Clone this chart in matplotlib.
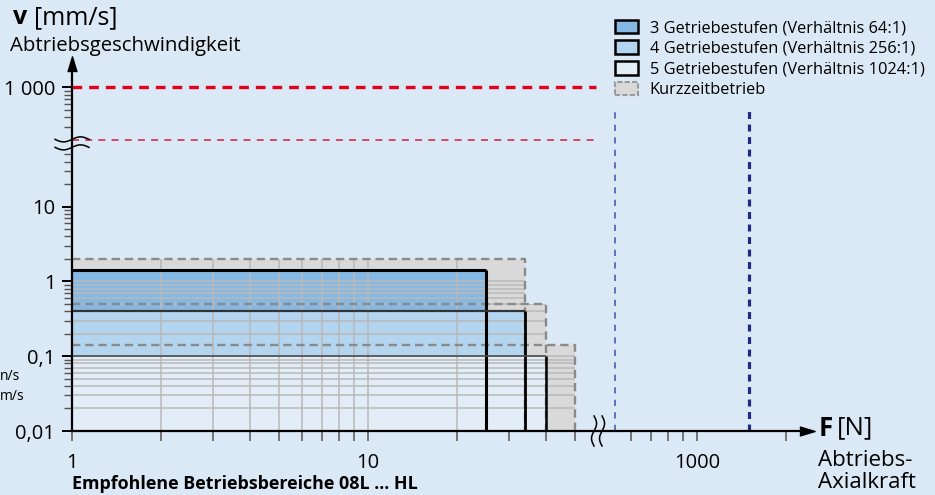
import numpy as np
import matplotlib
matplotlib.use("Agg")
import matplotlib.pyplot as plt
from matplotlib.patches import Rectangle, Patch, Polygon
import matplotlib.transforms as mtransforms

# ---- data ----
stage_labels = ["3 Getriebestufen (Verhältnis 64:1)",
                "4 Getriebestufen (Verhältnis 256:1)",
                "5 Getriebestufen (Verhältnis 1024:1)"]
stage_force = [25, 34, 40]        # N, Dauerbetrieb
stage_speed = [1.4, 0.4, 0.1]     # mm/s
short_label = "Kurzzeitbetrieb"
short_force = [34, 40, 50]        # N, Kurzzeitbetrieb
short_speed = [2.0, 0.5, 0.14]    # mm/s

speed_limits = [1000, 200]        # mm/s, red dashed
speed_limit_force = 59
force_limits = [530, 1500]        # N, blue dashed
force_limit_speed = 480

x_major = [1, 10, 1000]
x_major_labels = ["1", "10", "1000"]
x_minor = [2, 3, 4, 5, 6, 7, 8, 9, 20, 30, 40, 50, 600, 700, 800, 900, 2000]
y_major = [0.01, 0.1, 1, 10, 1000]
y_major_labels = ["0,01", "0,1", "1", "10", "1 000"]
y_minor = [0.02, 0.03, 0.04, 0.05, 0.06, 0.07, 0.08, 0.09,
           0.2, 0.3, 0.4, 0.5, 0.6, 0.7, 0.8, 0.9,
           2, 3, 4, 5, 6, 7, 8, 9, 20, 30, 40, 50,
           300, 400, 500, 600, 700, 800, 900]
x_grid = [2, 3, 4, 5, 6, 7, 8, 9, 10, 20]
y_grid = [0.02, 0.03, 0.04, 0.05, 0.06, 0.07, 0.08, 0.09, 0.1,
          0.2, 0.3, 0.4, 0.5, 0.6, 0.7, 0.8, 0.9, 1]

# ---- styling ----
BG = "#dbe8f5"
stage_fill = ["#85b8e2", "#b4d5ef", "#e3edf8"]
stage_top_color = ["black", "#333333", "#4d4d4d"]
stage_top_lw = [2.2, 1.6, 1.2]
stage_right_lw = [2.2, 2.0, 1.8]
short_fill = "#d9d9d9"
short_edge = "#8a8a8a"
grid_color = "#b9b9b9"

plt.rcParams["font.family"] = ["Open Sans", "DejaVu Sans"]
plt.rcParams["lines.scale_dashes"] = False

W, H = 935, 495


def px(x, y):
    return x / W, 1 - y / H


def broken_log(lo, hi, k=0.002):
    a, b = np.log10(lo), np.log10(hi)
    c = a + (b - a) * k

    def fwd(v):
        with np.errstate(divide="ignore", invalid="ignore"):
            lv = np.log10(np.asarray(v, dtype=float))
        return np.where(lv <= a, lv,
                        np.where(lv >= b, lv - (b - a) * (1 - k), a + (lv - a) * k))

    def inv(t):
        t = np.asarray(t, dtype=float)
        lv = np.where(t <= a, t,
                      np.where(t >= c, t + (b - a) * (1 - k), a + (t - a) / k))
        return 10 ** lv
    return fwd, inv


XB0, XB1 = 60, 465
YB0, YB1 = 70, 179
ymin = 0.01

fig = plt.figure(figsize=(W / 100, H / 100), dpi=100, facecolor=BG)
ax = fig.add_axes([72 / W, (H - 431) / H, (807 - 72) / W, (431 - 64) / H])
ax.set_facecolor("none")
ax.set_xscale("function", functions=broken_log(XB0, XB1))
ax.set_yscale("function", functions=broken_log(YB0, YB1))
ax.set_xlim(1, 2355)
ax.set_ylim(ymin, 2056)

# Kurzzeitbetrieb: union of the short-time areas
verts = [(1, ymin)]
prev_v = ymin
for f, v in sorted(zip(short_force, short_speed), reverse=True):
    verts += [(f, prev_v), (f, v)]
    prev_v = v
verts.append((1, prev_v))
short_area = Polygon(verts, closed=True, facecolor=short_fill, edgecolor="none", zorder=1)
ax.add_patch(short_area)

# continuous operation areas
for f, v, c in zip(stage_force, stage_speed, stage_fill):
    ax.add_patch(Rectangle((1, ymin), f - 1, v - ymin, facecolor=c, edgecolor="none", zorder=2))

# grid only inside the operating areas
hl = ax.hlines(y_grid, 1, max(short_force), colors=grid_color, lw=1.1, zorder=3)
vl = ax.vlines(x_grid, ymin, max(short_speed), colors=grid_color, lw=1.1, zorder=3)
hl.set_clip_path(short_area)
vl.set_clip_path(short_area)

# dashed outlines of short-time areas
for f, v in zip(short_force, short_speed):
    ax.plot([1, f, f], [v, v, ymin], color=short_edge, lw=1.7, ls=(0, (6, 3.5)), zorder=4)

# solid outlines of continuous areas
for f, v, tc, tlw, rlw in zip(stage_force, stage_speed, stage_top_color, stage_top_lw, stage_right_lw):
    ax.plot([1, f], [v, v], color=tc, lw=tlw, zorder=5, solid_capstyle="butt")
    ax.plot([f, f], [ymin, v], color="black", lw=rlw, zorder=5, solid_capstyle="butt")

# limits
ax.plot([1, speed_limit_force], [speed_limits[0]] * 2, color="#e2001a", lw=2.4,
        ls=(0, (7, 5)), zorder=4)
ax.plot([1, speed_limit_force], [speed_limits[1]] * 2, color="#cc1f3c", lw=1.1,
        ls=(0, (5, 4.5)), zorder=4)
ax.plot([force_limits[0]] * 2, [ymin, force_limit_speed], color="#4a5cae", lw=1.2,
        ls=(0, (4.5, 4.5)), zorder=4)
ax.plot([force_limits[1]] * 2, [ymin, force_limit_speed], color="#1f2a85", lw=2.3,
        ls=(0, (5, 4)), zorder=4)

# axes
for s in ("top", "right"):
    ax.spines[s].set_visible(False)
for s in ("left", "bottom"):
    ax.spines[s].set_linewidth(1.6)
    ax.spines[s].set_zorder(10)

ax.xaxis.set_major_locator(matplotlib.ticker.FixedLocator(x_major))
ax.xaxis.set_minor_locator(matplotlib.ticker.FixedLocator(x_minor))
ax.xaxis.set_major_formatter(matplotlib.ticker.FixedFormatter(x_major_labels))
ax.xaxis.set_minor_formatter(matplotlib.ticker.NullFormatter())
ax.yaxis.set_major_locator(matplotlib.ticker.FixedLocator(y_major))
ax.yaxis.set_minor_locator(matplotlib.ticker.FixedLocator(y_minor))
ax.yaxis.set_major_formatter(matplotlib.ticker.FixedFormatter(y_major_labels))
ax.yaxis.set_minor_formatter(matplotlib.ticker.NullFormatter())

ax.tick_params(axis="x", which="both", direction="out", length=7.5, width=1.1,
               color="#555555", labelsize=14.5, pad=8)
ax.tick_params(axis="y", which="major", direction="out", length=7, width=1.4,
               color="black", labelsize=14.5, pad=5)
ax.tick_params(axis="y", which="minor", direction="out", length=6, width=1.0, color="#555555")

ax.plot(1, 0, marker=[(-1, -0.6), (1, 0), (-1, 0.6)], ms=11, color="black",
        transform=ax.transAxes, clip_on=False, zorder=11)
ax.plot(0, 1, marker=[(-0.6, -1), (0, 1), (0.6, -1)], ms=11, color="black",
        transform=ax.transAxes, clip_on=False, zorder=11)

# break marks
fig.canvas.draw()
t = np.linspace(-1, 1, 60)
bx, by = ax.transData.transform((1, YB0))
for off in (-4, 4):
    ax.plot(bx + 17 * t, by + off + 2.5 * np.sin(np.pi * t), color="black", lw=1.1,
            transform=mtransforms.IdentityTransform(), clip_on=False, zorder=12)
bx, by = ax.transData.transform((XB0, ymin))
for off in (-4, 4):
    ax.plot(bx + off + 2.5 * np.sin(np.pi * t), by + 15 * t, color="black", lw=1.1,
            transform=mtransforms.IdentityTransform(), clip_on=False, zorder=12)

# legend
handles = [Patch(facecolor=c, edgecolor="black", lw=1.8) for c in stage_fill]
handles.append(Patch(facecolor=short_fill, edgecolor="#9a9a9a", lw=1.5, ls="--"))
fig.legend(handles, stage_labels + [short_label], loc="upper left",
           bbox_to_anchor=px(608, 13), frameon=False, fontsize=11.8,
           handlelength=1.45, handleheight=0.92, handletextpad=0.7, labelspacing=0.25,
           borderaxespad=0)

# texts
fig.text(*px(13, 18), "v", fontsize=18, fontweight="bold", va="center")
fig.text(*px(34, 18), "[mm/s]", fontsize=18, va="center")
fig.text(*px(10, 46), "Abtriebsgeschwindigkeit", fontsize=14.7, va="center")
fig.text(*px(819, 428), "F", fontsize=18.5, fontweight="bold", va="center")
fig.text(*px(837, 428), "[N]", fontsize=18.5, va="center")
fig.text(*px(818, 460), "Abtriebs-", fontsize=16, va="center")
fig.text(*px(818, 482), "Axialkraft", fontsize=16, va="center")
fig.text(*px(0, 376), "n/s", fontsize=10, va="center", ha="left")
fig.text(*px(0, 397), "m/s", fontsize=10, va="center", ha="left")
fig.text(*px(72, 484), "Empfohlene Betriebsbereiche 08L ... HL", fontsize=12.9,
         fontweight="bold", va="center")

fig.savefig("out.png", dpi=100, facecolor=BG)
